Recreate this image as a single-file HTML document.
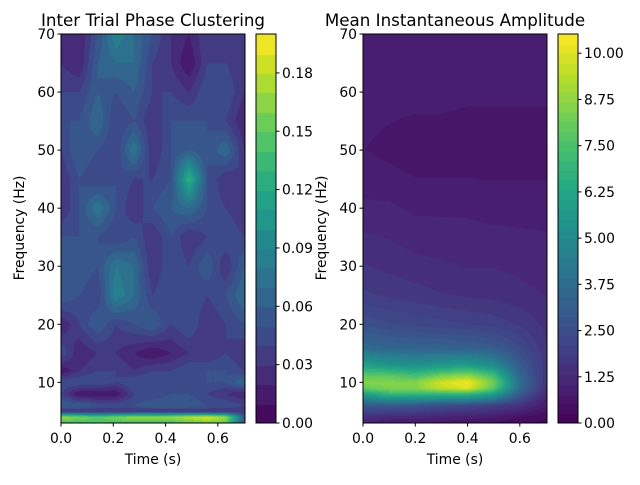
<!DOCTYPE html>
<html><head><meta charset="utf-8"><style>
body{margin:0;background:#fff;}
svg text{font-family:"DejaVu Sans","Liberation Sans",sans-serif;fill:#000;}
</style></head><body>
<svg id="fig" width="640" height="480" xmlns="http://www.w3.org/2000/svg">
<rect width="640" height="480" fill="#fff"/>
<foreignObject x="61" y="34" width="184" height="389"><canvas xmlns="http://www.w3.org/1999/xhtml" id="c1" width="184" height="389" style="display:block"></canvas></foreignObject>
<foreignObject x="363" y="34" width="184" height="389"><canvas xmlns="http://www.w3.org/1999/xhtml" id="c2" width="184" height="389" style="display:block"></canvas></foreignObject>
<foreignObject x="256" y="34" width="20" height="389"><canvas xmlns="http://www.w3.org/1999/xhtml" id="cb1" width="20" height="389" style="display:block"></canvas></foreignObject>
<foreignObject x="558" y="34" width="20" height="389"><canvas xmlns="http://www.w3.org/1999/xhtml" id="cb2" width="20" height="389" style="display:block"></canvas></foreignObject>
<g id="axes"></g>
</svg>
<script>
const itpcTimes=[0,0.07,0.14,0.21,0.28,0.35,0.42,0.49,0.56,0.63,0.70];
const itpcFreqs=[70,65,60,55,50,45,40,35,30,25,20,15,12,10,8,6,5,4,3];
const itpcValues=[
[.03,.02,.05,.09,.07,.05,.03,.02,.04,.03,.03],
[.03,.02,.06,.07,.07,.04,.03,.01,.04,.04,.03],
[.04,.04,.06,.05,.06,.04,.04,.03,.05,.05,.03],
[.05,.05,.07,.04,.05,.03,.05,.05,.05,.04,.02],
[.04,.06,.05,.04,.08,.03,.05,.06,.05,.07,.03],
[.03,.05,.04,.05,.04,.04,.05,.13,.05,.03,.04],
[.03,.05,.08,.05,.03,.05,.06,.07,.05,.04,.03],
[.05,.05,.05,.04,.05,.03,.05,.03,.04,.05,.04],
[.06,.06,.05,.08,.07,.03,.05,.04,.06,.03,.06],
[.06,.05,.04,.09,.07,.04,.05,.05,.04,.05,.07],
[.02,.04,.06,.04,.05,.06,.04,.05,.03,.04,.05],
[.05,.02,.03,.03,.02,.01,.02,.03,.03,.04,.03],
[.01,.03,.04,.04,.03,.04,.04,.05,.05,.05,.04],
[.05,.05,.05,.04,.05,.05,.04,.04,.05,.05,.07],
[.04,.01,.01,.01,.04,.04,.05,.05,.04,.03,.02],
[.06,.06,.05,.05,.05,.06,.06,.06,.05,.05,.04],
[.03,.03,.03,.03,.03,.03,.03,.03,.03,.03,.03],
[.17,.16,.15,.16,.17,.17,.17,.18,.19,.17,.06],
[.14,.14,.14,.14,.14,.14,.14,.15,.16,.15,.05]];
const ampTimes=[0,0.1,0.2,0.3,0.4,0.5,0.6,0.7];
const ampFreqs=[70,60,50,40,30,25,20,16,13,11,10,9,8,6,4,3];
const ampValues=[
[1.0,1.0,1.0,1.0,1.0,1.0,1.0,1.0],
[0.9,0.9,0.9,0.9,0.85,0.85,0.85,0.85],
[0.8,0.7,0.6,0.6,0.6,0.6,0.6,0.6],
[1.1,1.1,1.0,1.0,1.0,0.95,0.95,0.95],
[1.6,1.5,1.4,1.35,1.3,1.3,1.25,1.2],
[1.9,1.8,1.7,1.6,1.55,1.5,1.4,1.3],
[2.6,2.4,2.3,2.2,2.1,2.0,1.8,1.5],
[3.6,3.4,3.3,3.3,3.2,3.0,2.4,1.6],
[6.0,5.5,5.3,5.5,5.8,5.0,3.0,1.7],
[8.0,8.0,7.5,8.5,9.0,7.5,3.5,1.6],
[8.5,8.5,8.5,9.8,10.4,8.2,3.8,1.6],
[8.0,8.5,8.5,9.6,10.0,7.8,3.5,1.5],
[6.0,7.0,7.0,7.0,7.0,6.0,3.0,1.2],
[3.0,3.0,2.8,2.5,2.3,2.0,1.5,0.8],
[1.5,1.2,1.2,1.0,.9,.8,.5,.3],
[1.0,.8,.8,.7,.6,.5,.3,.2]];
const xTicks=[0,0.2,0.4,0.6];
const xTickLabels=["0.0","0.2","0.4","0.6"];
const yTicks=[10,20,30,40,50,60,70];
const itpcCbTicks=[0,0.03,0.06,0.09,0.12,0.15,0.18];
const itpcCbLabels=["0.00","0.03","0.06","0.09","0.12","0.15","0.18"];
const ampCbTicks=[0,1.25,2.5,3.75,5,6.25,7.5,8.75,10];
const ampCbLabels=["0.00","1.25","2.50","3.75","5.00","6.25","7.50","8.75","10.00"];

const VIR=[[68,1,84],[72,35,116],[64,67,135],[52,94,141],[41,120,142],[32,144,140],[34,167,132],[68,190,112],[121,209,81],[189,222,38],[253,231,37]];
function viridis(t){t=Math.max(0,Math.min(1,t));const s=t*10,i=Math.min(9,Math.floor(s)),f=s-i;
return VIR[i].map((c,k)=>Math.round(c+(VIR[i+1][k]-c)*f));}
const W=184,H=389,XMAX=0.704,YMIN=3,YMAX=70;
const xs=t=>t/XMAX*W, ys=f=>H-(f-YMIN)/(YMAX-YMIN)*H;
function bracket(arr,v,desc){for(let i=0;i<arr.length-1;i++){const a=arr[i],b=arr[i+1];
 if((desc&&v<=a&&v>=b)||(!desc&&v>=a&&v<=b)){return [i,(v-a)/(b-a)];}}return [arr.length-2,1];}
function sample(times,freqs,vals,t,f){const [j,u]=bracket(times,t,false);const [i,w]=bracket(freqs,f,true);
 const a=vals[i][j],b=vals[i][j+1],c=vals[i+1][j],d=vals[i+1][j+1];
 return (a*(1-u)+b*u)*(1-w)+(c*(1-u)+d*u)*w;}
function draw(id,times,freqs,vals,vmax,levels){const cv=document.getElementById(id),ctx=cv.getContext('2d');
 const img=ctx.createImageData(W,H);
 for(let py=0;py<H;py++){const f=YMIN+(H-py-0.5)/H*(YMAX-YMIN);
  for(let px=0;px<W;px++){const t=(px+0.5)/W*XMAX;let v=sample(times,freqs,vals,Math.min(t,0.7),f);
   let n=v/vmax; if(levels){n=(Math.floor(n*levels)+0.5)/levels;}
   const c=viridis(n),k=(py*W+px)*4;img.data[k]=c[0];img.data[k+1]=c[1];img.data[k+2]=c[2];img.data[k+3]=255;}}
 ctx.putImageData(img,0,0);}
draw('c1',itpcTimes,itpcFreqs,itpcValues,0.2,20);
draw('c2',ampTimes,ampFreqs,ampValues,10.52,40);
function cbar(id,levels){const ctx=document.getElementById(id).getContext('2d');
 for(let i=0;i<levels;i++){const c=viridis((i+0.5)/levels);ctx.fillStyle=`rgb(${c})`;
  const y0=H-(i+1)*H/levels;ctx.fillRect(0,Math.floor(y0),20,Math.ceil(H/levels)+1);}}
cbar('cb1',20);cbar('cb2',40);

const NS='http://www.w3.org/2000/svg',g=document.getElementById('axes');
function el(tag,attrs,txt){const e=document.createElementNS(NS,tag);for(const k in attrs)e.setAttribute(k,attrs[k]);if(txt!==undefined)e.textContent=txt;g.appendChild(e);return e;}
function panel(ox,title,name){
 let e=el('rect',{x:ox,y:34,width:W,height:H,fill:'none',stroke:'#000','stroke-width':1});
 
 
 e=el('text',{x:ox+W/2,y:26,'text-anchor':'middle','font-size':16.7},title);
 
 
 xTicks.forEach((t,i)=>{const x=ox+xs(t);
  el('line',{x1:x,x2:x,y1:423,y2:426.5,stroke:'#000'});
  e=el('text',{x:x,y:443,'text-anchor':'middle','font-size':13.9},xTickLabels[i]);
  
  });
 yTicks.forEach(f=>{const y=34+ys(f);
  el('line',{x1:ox-3.5,x2:ox,y1:y,y2:y,stroke:'#000'});
  e=el('text',{x:ox-6,y:y+5,'text-anchor':'end','font-size':13.9},String(f));
  
  });
 e=el('text',{x:ox+W/2,y:464,'text-anchor':'middle','font-size':13.9},'Time (s)');
 
 
 e=el('text',{x:0,y:0,'text-anchor':'middle','font-size':13.9,transform:`translate(${ox-37},228) rotate(-90)`},'Frequency (Hz)');
 
 }
panel(61,'Inter Trial Phase Clustering','itpc');
panel(363,'Mean Instantaneous Amplitude','amplitude');
function cbAxis(ox,ticks,labels,vmax,name){
 let e=el('rect',{x:ox,y:34,width:20,height:H,fill:'none',stroke:'#000'});
 
 
 ticks.forEach((t,i)=>{const y=423-t/vmax*H;
  el('line',{x1:ox+20,x2:ox+23.5,y1:y,y2:y,stroke:'#000'});
  e=el('text',{x:ox+26,y:y+5,'font-size':13.9},labels[i]);
  
  });}
cbAxis(256,itpcCbTicks,itpcCbLabels,0.2,'itpc-colorbar');
cbAxis(558,ampCbTicks,ampCbLabels,10.52,'amplitude-colorbar');
</script>
</body></html>
